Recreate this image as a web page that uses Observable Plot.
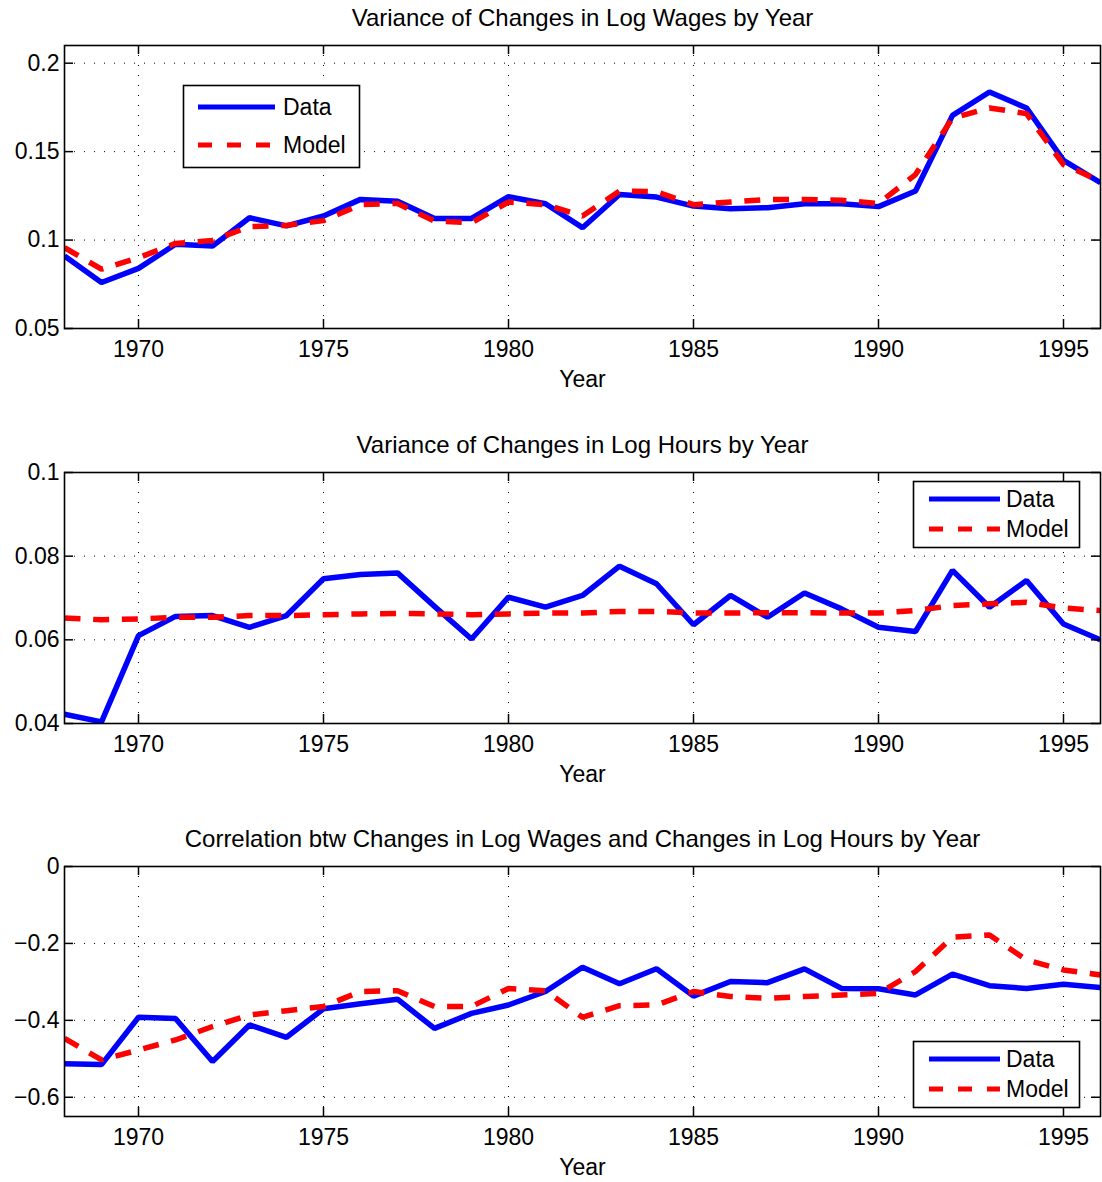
<!DOCTYPE html>
<html>
<head>
<meta charset="utf-8">
<script src="https://cdn.jsdelivr.net/npm/d3@7"></script>
<script src="https://cdn.jsdelivr.net/npm/@observablehq/plot@0.6"></script>
<style>
  html, body { margin: 0; padding: 0; background: #fff; }
  #root { position: relative; width: 1102px; height: 1182px; overflow: hidden; font-family: "Liberation Sans", Arial, Helvetica, sans-serif; }
  .panel { position: absolute; left: 0; }
  #legends { position: absolute; left: 0; top: 0; pointer-events: none; }
</style>
</head>
<body>
<div id="root"></div>
<script>
const years = [1968,1969,1970,1971,1972,1973,1974,1975,1976,1977,1978,1979,1980,1981,1982,1983,1984,1985,1986,1987,1988,1989,1990,1991,1992,1993,1994,1995,1996];
const xTickYears = [1970,1975,1980,1985,1990,1995];
const seriesNames = ["Data", "Model"];

const titles = [
  "Variance of Changes in Log Wages by Year",
  "Variance of Changes in Log Hours by Year",
  "Correlation btw Changes in Log Wages and Changes in Log Hours by Year"
];
const xLabel = "Year";

const wageData  = [0.091,0.076,0.084,0.0976,0.0966,0.1126,0.108,0.1136,0.123,0.122,0.1122,0.1122,0.1245,0.1205,0.107,0.1258,0.1243,0.1192,0.1177,0.1183,0.1205,0.1205,0.1189,0.1277,0.1705,0.1837,0.1747,0.1451,0.1324];
const wageModel = [0.0957,0.0835,0.090,0.0981,0.0998,0.1076,0.1083,0.111,0.120,0.1207,0.1107,0.1098,0.1215,0.120,0.1136,0.1277,0.1273,0.120,0.1215,0.123,0.123,0.1225,0.1207,0.137,0.169,0.1747,0.1715,0.1427,0.1333];

const hoursData  = [0.0422,0.0404,0.061,0.0656,0.0658,0.063,0.0658,0.0746,0.0756,0.076,0.068,0.0602,0.0702,0.0678,0.0706,0.0776,0.0734,0.0636,0.0706,0.0654,0.0712,0.0674,0.063,0.062,0.0766,0.0678,0.0742,0.0638,0.060];
const hoursModel = [0.0652,0.0648,0.065,0.0654,0.0654,0.0658,0.0658,0.066,0.0662,0.0663,0.0662,0.066,0.0662,0.0664,0.0664,0.0668,0.0668,0.0664,0.0664,0.0665,0.0665,0.0664,0.0664,0.067,0.0682,0.0686,0.069,0.0676,0.067];

const corrData  = [-0.513,-0.515,-0.392,-0.395,-0.507,-0.412,-0.444,-0.370,-0.357,-0.345,-0.421,-0.382,-0.360,-0.325,-0.262,-0.305,-0.266,-0.337,-0.299,-0.302,-0.266,-0.317,-0.318,-0.334,-0.280,-0.310,-0.317,-0.306,-0.315];
const corrModel = [-0.447,-0.503,-0.477,-0.451,-0.416,-0.386,-0.375,-0.364,-0.325,-0.323,-0.364,-0.364,-0.317,-0.323,-0.392,-0.362,-0.360,-0.325,-0.338,-0.343,-0.338,-0.334,-0.330,-0.273,-0.184,-0.178,-0.243,-0.269,-0.282];

const wageTicks  = [0.05,0.1,0.15,0.2];
const hoursTicks = [0.04,0.06,0.08,0.1];
const corrTicks  = [-0.6,-0.4,-0.2,0];

const FONT = '"Liberation Sans", Arial, Helvetica, sans-serif';
const W = 1102, ML = 64, MR = 2, MT = 45;
const frameW = W - ML - MR;

function fmtNum(d) { return d < 0 ? "\u2212" + String(-d) : String(d); }

function panel({title, yDomain, yTicks, data, model, plotH, marginBottom}) {
  const rowsD = years.map((y, i) => ({year: y, v: data[i]}));
  const rowsM = years.map((y, i) => ({year: y, v: model[i]}));
  const tick = 9;
  const grid = {stroke: "#000", strokeOpacity: 1, strokeWidth: 1, strokeDasharray: "1,9"};
  return Plot.plot({
    width: W,
    height: MT + plotH + marginBottom,
    marginLeft: ML, marginRight: MR, marginTop: MT, marginBottom,
    style: {fontFamily: FONT, fontSize: "23px", color: "#000", background: "#fff", overflow: "visible"},
    x: {domain: [1968, 1996], label: null},
    y: {domain: yDomain, label: null},
    marks: [
      Plot.gridX(xTickYears, grid),
      Plot.gridY(yTicks, grid),
      Plot.line(rowsD, {x: "year", y: "v", stroke: "#0000ff", strokeWidth: 5.5, strokeLinejoin: "miter", strokeLinecap: "butt", clip: true}),
      Plot.line(rowsM, {x: "year", y: "v", stroke: "#ff0000", strokeWidth: 5.5, strokeDasharray: "16,12.7", strokeLinejoin: "miter", strokeLinecap: "butt", clip: true}),
      Plot.tickX(xTickYears, {x: d => d, insetTop: plotH - tick, stroke: "#000", strokeWidth: 1.5}),
      Plot.tickX(xTickYears, {x: d => d, insetBottom: plotH - tick, stroke: "#000", strokeWidth: 1.5}),
      Plot.tickY(yTicks, {y: d => d, insetRight: frameW - tick, stroke: "#000", strokeWidth: 1.5}),
      Plot.tickY(yTicks, {y: d => d, insetLeft: frameW - tick, stroke: "#000", strokeWidth: 1.5}),
      Plot.frame({stroke: "#000", strokeWidth: 1.6}),
      Plot.axisX(xTickYears, {tickSize: 0, tickPadding: 12, tickFormat: d => String(d), fontSize: 23, label: null}),
      Plot.axisY(yTicks, {tickSize: 0, tickPadding: 5, tickFormat: fmtNum, fontSize: 23, label: null}),
      Plot.text([xLabel], {frameAnchor: "bottom", dy: 51, text: d => d, fontSize: 23, lineAnchor: "middle"}),
      Plot.text([title], {frameAnchor: "top", dy: -27, text: d => d, fontSize: 24, lineAnchor: "middle"})
    ]
  });
}

const root = document.getElementById("root");
const specs = [
  {top: 0,   title: titles[0], yDomain: [0.05, 0.21], yTicks: wageTicks,  data: wageData,  model: wageModel,  plotH: 283, marginBottom: 70},
  {top: 427, title: titles[1], yDomain: [0.04, 0.1],  yTicks: hoursTicks, data: hoursData, model: hoursModel, plotH: 251, marginBottom: 70},
  {top: 821, title: titles[2], yDomain: [-0.65, 0],   yTicks: corrTicks,  data: corrData,  model: corrModel,  plotH: 250, marginBottom: 61}
];
for (const s of specs) {
  const div = document.createElement("div");
  div.className = "panel";
  div.style.top = s.top + "px";
  div.appendChild(panel(s));
  root.appendChild(div);
}

// Legends (boxes drawn as a plain SVG overlay)
const legendBoxes = [
  {x: 183, y: 85,   w: 176, h: 82, lx1: 198, lx2: 275, tx: 283, rows: [107, 145]},
  {x: 913, y: 481,  w: 166, h: 66, lx1: 929, lx2: 1000, tx: 1006, rows: [499, 529]},
  {x: 913, y: 1041, w: 166, h: 66, lx1: 929, lx2: 1000, tx: 1006, rows: [1059, 1089]}
];
const ns = "http://www.w3.org/2000/svg";
const svg = document.createElementNS(ns, "svg");
svg.setAttribute("id", "legends");
svg.setAttribute("width", W);
svg.setAttribute("height", 1182);
function el(name, attrs, parent) {
  const e = document.createElementNS(ns, name);
  for (const k in attrs) e.setAttribute(k, attrs[k]);
  parent.appendChild(e);
  return e;
}
for (const b of legendBoxes) {
  el("rect", {x: b.x + 0.5, y: b.y + 0.5, width: b.w, height: b.h, fill: "#fff", stroke: "#000", "stroke-width": 1.6}, svg);
  seriesNames.forEach((name, i) => {
    const yy = b.rows[i];
    el("line", {x1: b.lx1, x2: b.lx2, y1: yy, y2: yy,
      stroke: i === 0 ? "#0000ff" : "#ff0000", "stroke-width": 5,
      "stroke-dasharray": i === 0 ? "none" : "14,15"}, svg);
    const t = el("text", {x: b.tx, y: yy + 8, "font-family": FONT, "font-size": 23, fill: "#000"}, svg);
    t.textContent = name;
  });
}
root.appendChild(svg);
</script>
</body>
</html>
